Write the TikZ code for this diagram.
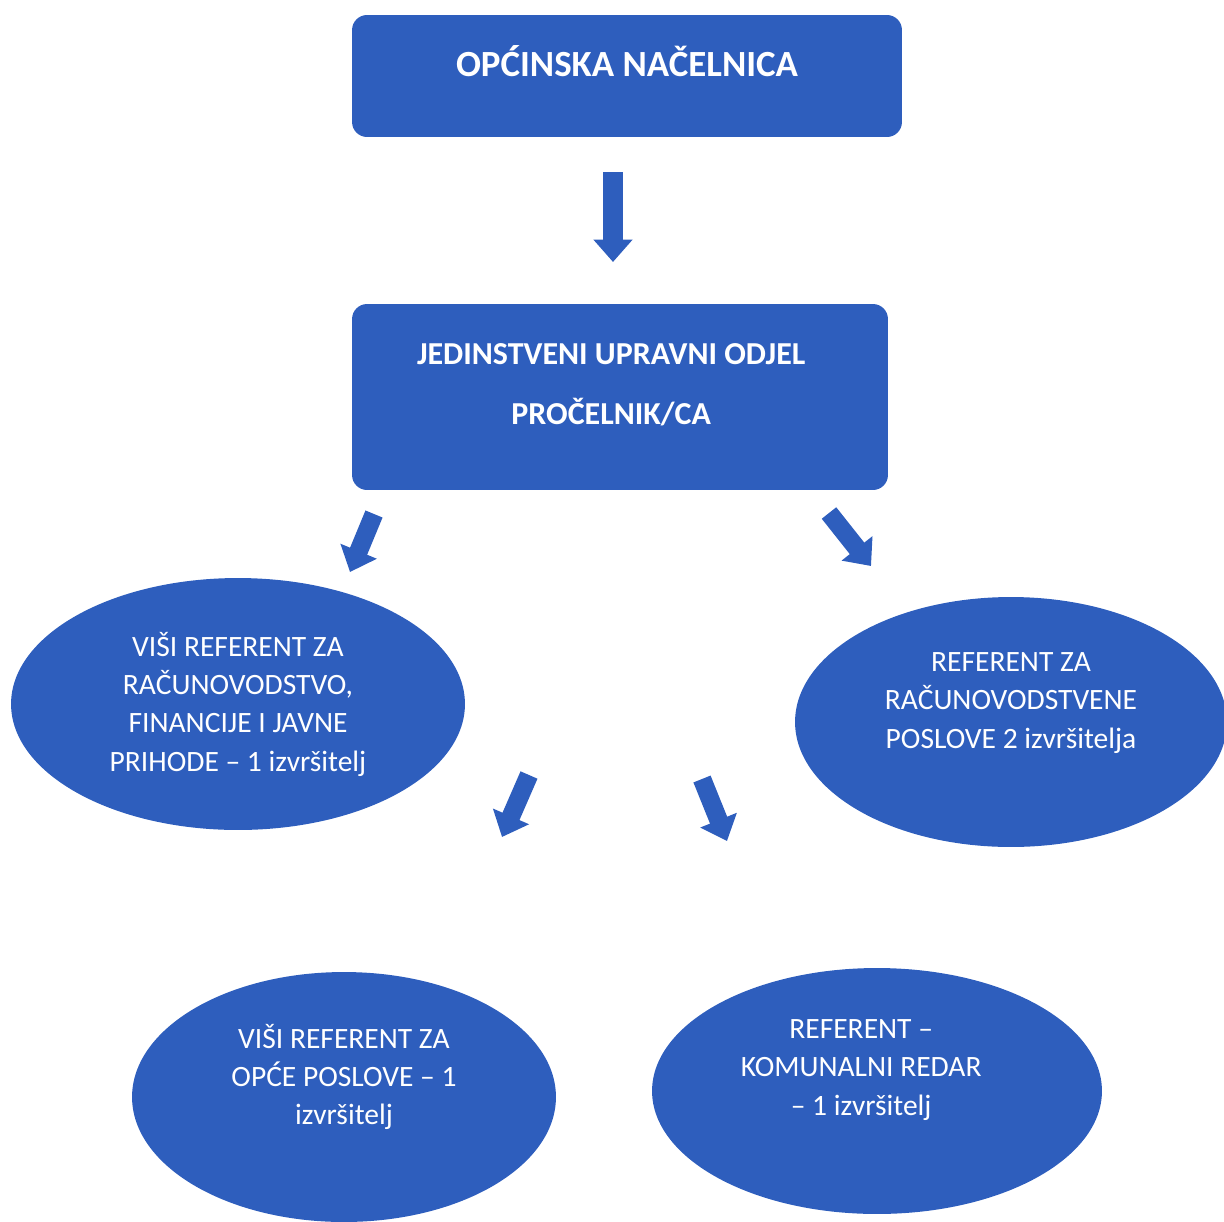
\documentclass[tikz,border=0pt]{standalone}
\usepackage{fontspec}
\setmainfont{Carlito}
\usetikzlibrary{shapes.geometric,arrows.meta}
\definecolor{orgblue}{RGB}{46,94,189}

\begin{document}
\begin{tikzpicture}[x=0.02cm,y=-0.02cm,
  rbox/.style={fill=orgblue,rounded corners=0.3cm,inner sep=0},
  oval/.style={ellipse,fill=orgblue,inner sep=0},
  boxtext/.style={text=white,align=center,font=\bfseries},
  ovaltext/.style={text=white,align=center,font=\fontsize{16.8}{21.8}\selectfont},
  blockarrow/.style={draw=orgblue,line width=0.37cm,-{Triangle[width=0.76cm,length=0.45cm]}}]
\useasboundingbox (0,0) rectangle (1224,1221);

% boxes
\node[rbox,minimum width=11cm,minimum height=2.44cm] (nacel) at (627,76) {};
\node[boxtext,font=\bfseries\fontsize{21}{25}\selectfont] (tnacel) at ([yshift=8.2pt]nacel.center) {OPĆINSKA NAČELNICA};

\node[rbox,minimum width=10.72cm,minimum height=3.72cm] (odjel) at (620,397) {};
\node[boxtext,font=\bfseries\fontsize{18.2}{34}\selectfont] (todjel) at ([xshift=-5pt,yshift=6.8pt]odjel.center) {JEDINSTVENI UPRAVNI ODJEL\\PROČELNIK/CA};

% ellipses
\node[oval,minimum width=9.08cm,minimum height=5.04cm] (financ) at (238,704) {};
\node[ovaltext] (tfinanc) at (financ.center) {VIŠI REFERENT ZA\\RAČUNOVODSTVO,\\FINANCIJE I JAVNE\\PRIHODE – 1 izvršitelj};

\node[oval,minimum width=8.64cm,minimum height=5cm] (racun) at (1011,722) {};
\node[ovaltext] (tracun) at ([yshift=10.8pt]racun.center) {REFERENT ZA\\RAČUNOVODSTVENE\\POSLOVE 2 izvršitelja};

\node[oval,minimum width=8.48cm,minimum height=5cm] (opci) at (344,1097) {};
\node[ovaltext] (topci) at ([yshift=11.5pt]opci.center) {VIŠI REFERENT ZA\\OPĆE POSLOVE – 1\\izvršitelj};

\node[oval,minimum width=9cm,minimum height=4.92cm] (redar) at (877,1091) {};
\node[ovaltext] (tredar) at ([xshift=-9pt,yshift=12pt]redar.center) {REFERENT –\\KOMUNALNI REDAR\\– 1 izvršitelj};

% arrows
\coordinate (a0s) at (613,172);
\coordinate (a0e) at (613,262);
\coordinate (a1s) at (374,514);
\coordinate (a1e) at (350,572);
\coordinate (a2s) at (829,513);
\coordinate (a2e) at (871,566);
\coordinate (a3s) at (529,775);
\coordinate (a3e) at (502,837);
\coordinate (a4s) at (702,779);
\coordinate (a4e) at (727,841);
\draw[blockarrow,line width=0.41cm] (a0s) -- (a0e);
\draw[blockarrow] (a1s) -- (a1e);
\draw[blockarrow] (a2s) -- (a2e);
\draw[blockarrow] (a3s) -- (a3e);
\draw[blockarrow] (a4s) -- (a4e);
\end{tikzpicture}
\end{document}
